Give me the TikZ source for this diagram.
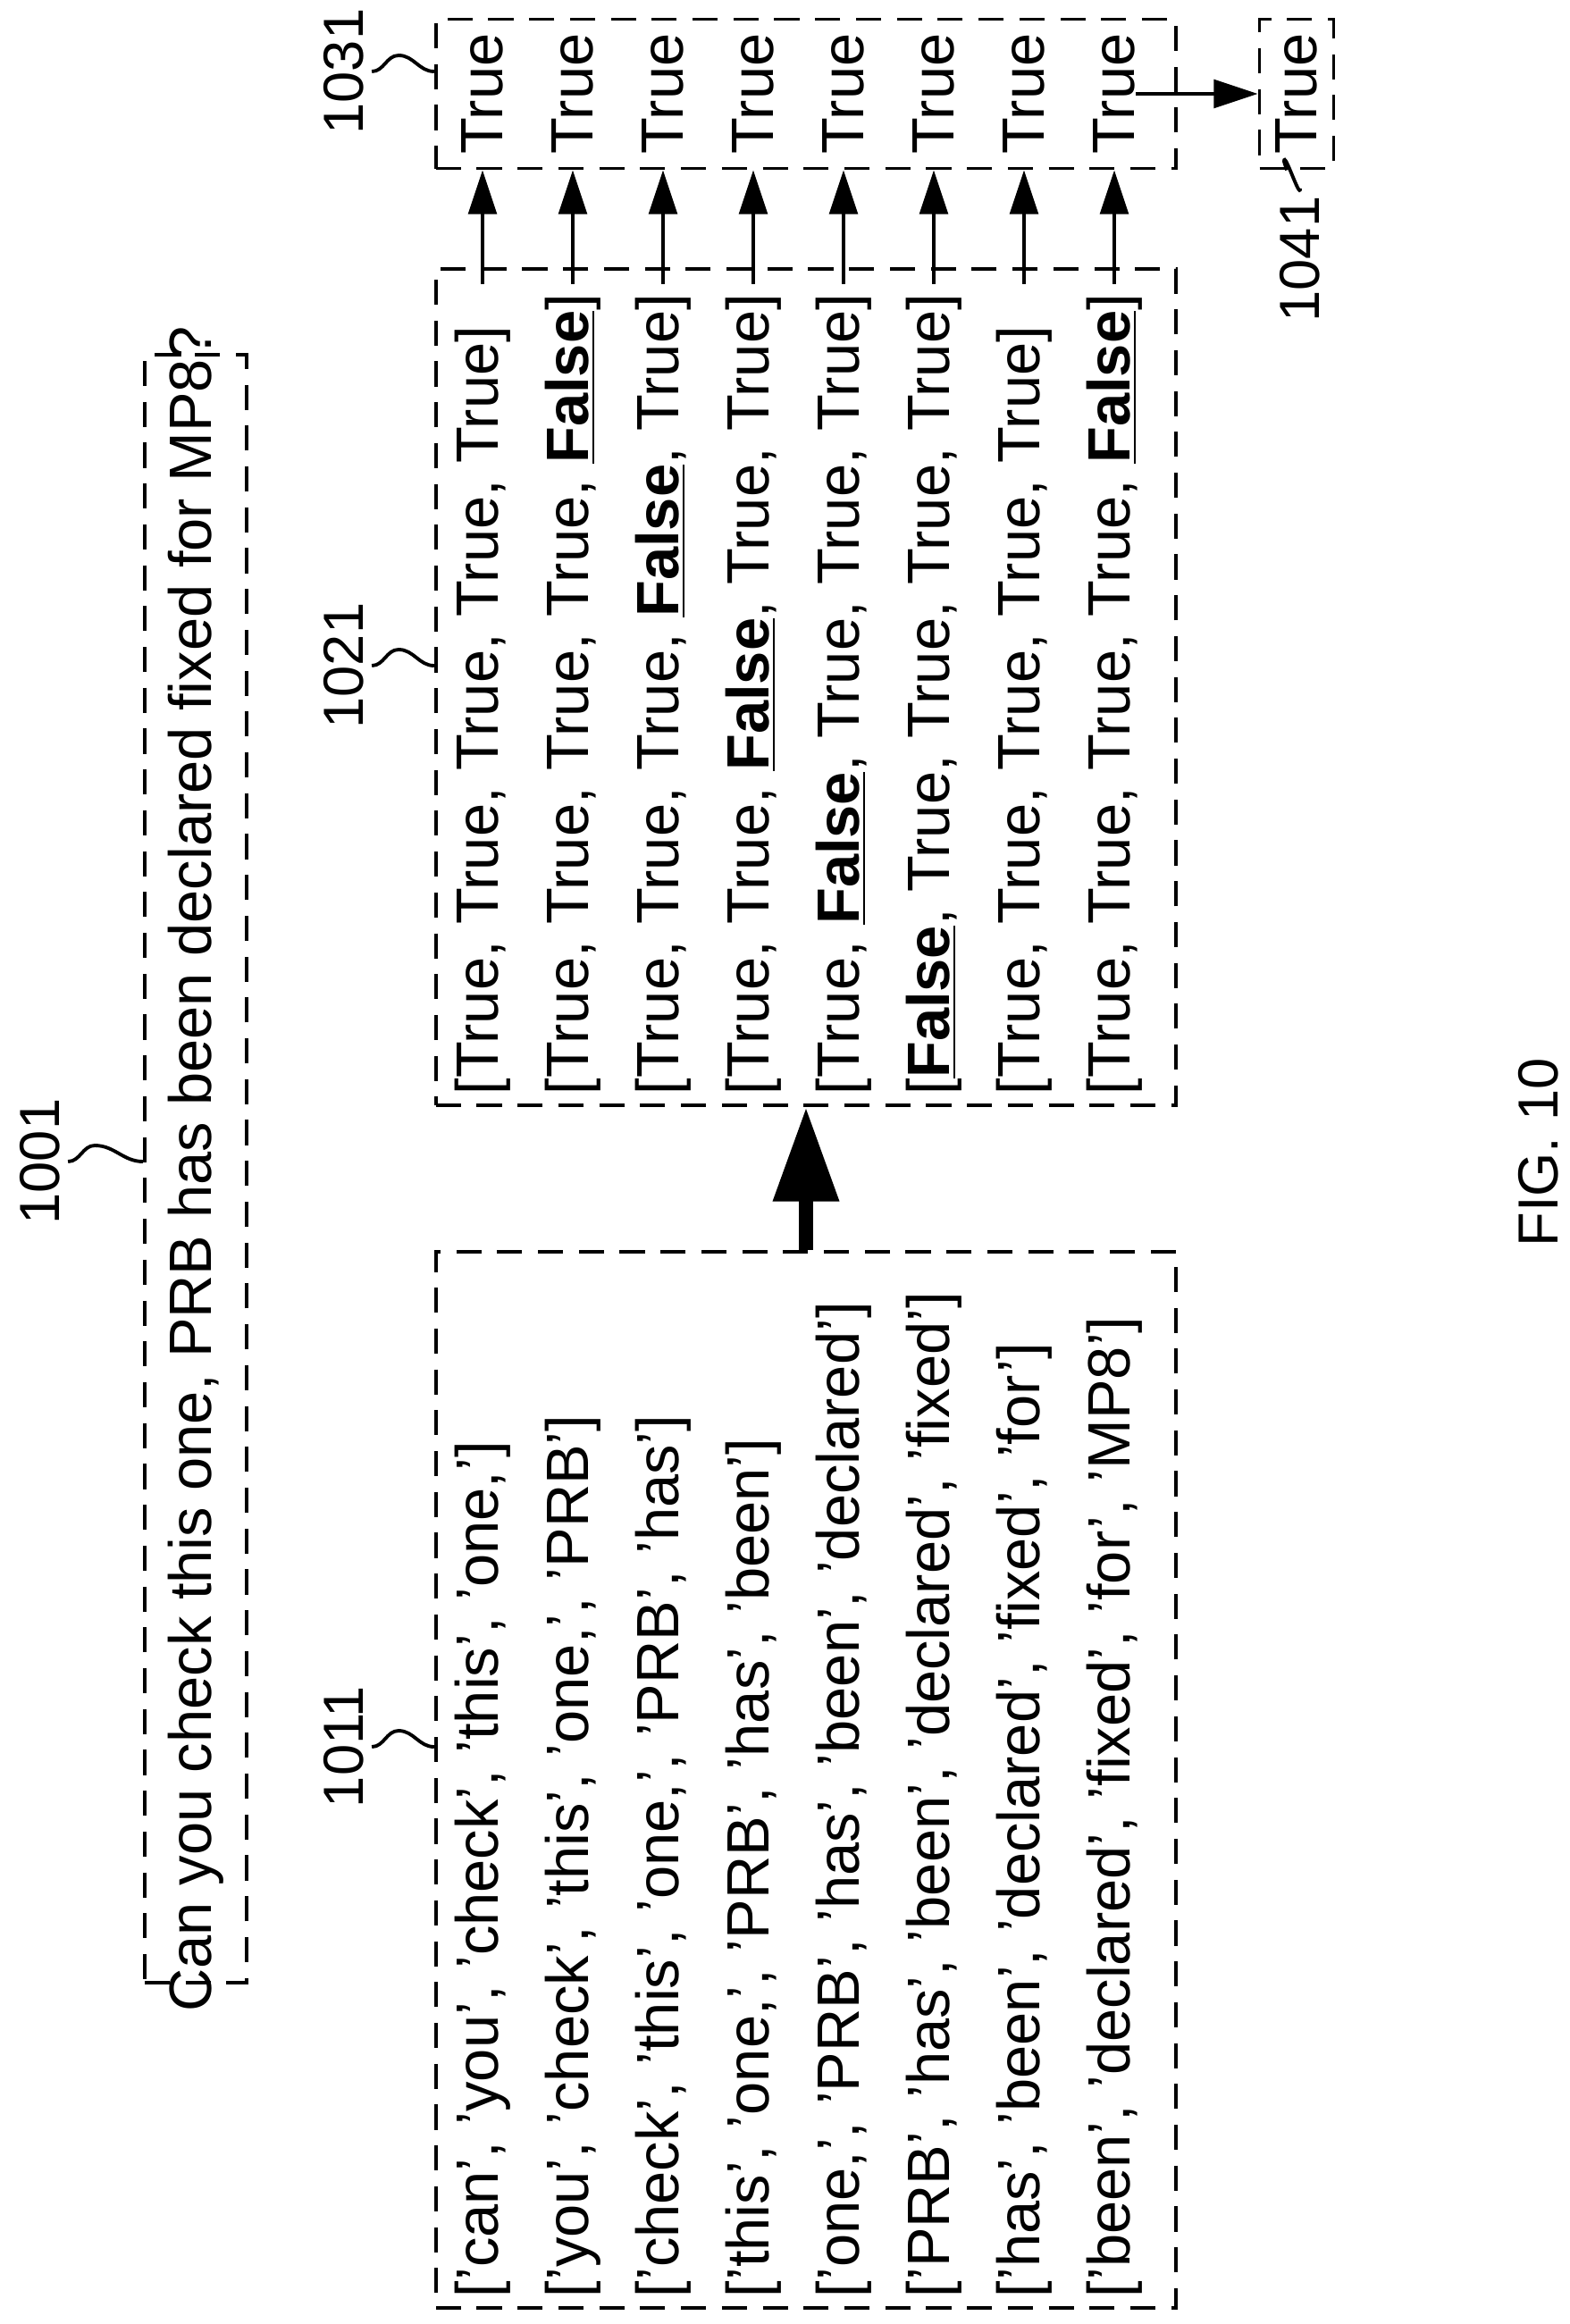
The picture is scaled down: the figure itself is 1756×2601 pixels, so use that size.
\documentclass[tikz,border=0pt]{standalone}
\usepackage{fontspec}
\setmainfont{Liberation Sans}
\usetikzlibrary{arrows.meta,positioning,calc}

\begin{document}
\begin{tikzpicture}[
    x=0.01cm, y=-0.01cm,
    box/.style={rectangle, draw, dash pattern=on 8pt off 5pt, line width=1.1pt, inner sep=0pt},
    txt/.style={rotate=90, inner sep=0pt, font=\fontsize{19}{23}\selectfont},
    lbl/.style={rotate=90, inner sep=0pt, font=\fontsize{18}{22}\selectfont},
    arrow/.style={-{Triangle[length=14pt,width=9pt]}, line width=1.1pt},
    squig/.style={line width=1.1pt}
]
\useasboundingbox (0,0) rectangle (1756,2601);

% boxes
\node[box, minimum width=114\pgflinewidth*0+1.14cm, minimum height=18.21cm] (q) at (219,1308) {};
\node[box, minimum width=8.28cm, minimum height=11.82cm] (tok) at (902,1992) {};
\node[box, minimum width=8.28cm, minimum height=9.36cm] (chk) at (902,769) {};
\node[box, minimum width=8.28cm, minimum height=1.67cm] (agg) at (902,105) {};
\node[box, minimum width=0.83cm, minimum height=1.67cm] (res) at (1451,105) {};

\node[txt] (qtext) at (q.center) {Can you check this one, PRB has been declared fixed for MP8?};

% token windows
\foreach \w [count=\i] in {
    {['can', 'you', 'check', 'this', 'one,']},
    {['you', 'check', 'this', 'one,', 'PRB']},
    {['check', 'this', 'one,', 'PRB', 'has']},
    {['this', 'one,', 'PRB', 'has', 'been']},
    {['one,', 'PRB', 'has', 'been', 'declared']},
    {['PRB', 'has', 'been', 'declared', 'fixed']},
    {['has', 'been', 'declared', 'fixed', 'for']},
    {['been', 'declared', 'fixed', 'for', 'MP8']}}
    \node[txt, anchor=west] (w\i) at (540+101*\i-101, 2572) {\w};

% checks
\newcommand{\F}{\textbf{\underline{False}}}
\foreach \c [count=\i] in {
    {[True, True, True, True, True]},
    {[True, True, True, True, \F]},
    {[True, True, True, \F, True]},
    {[True, True, \F, True, True]},
    {[True, \F, True, True, True]},
    {[\F, True, True, True, True]},
    {[True, True, True, True, True]},
    {[True, True, True, True, \F]}}
  {
    \node[txt, anchor=west] (c\i) at (540+101*\i-101, 1226) {\c};
    \node[txt] (a\i) at (540+101*\i-101, 105) {True};
    \coordinate (s\i) at (540+101*\i-101, 318);
    \draw[arrow] (s\i) -- (s\i |- agg.south);
  }

\node[txt] (r) at (res.center) {True};
\draw[arrow] (a8.south) -- (res.west);
\draw[-{Triangle[length=30pt,width=20pt]}, line width=4.5pt] (tok.north) -- (chk.south);

% reference numerals
\node[lbl] (l1001) at (45,1300) {1001};
\node[lbl] (l1011) at (385,1955) {1011};
\node[lbl] (l1021) at (385,745) {1021};
\node[lbl] (l1031) at (385,80) {1031};
\node[lbl] (l1041) at (1455,290) {1041};
\draw[squig] (l1001.south) ++(8,0) to[out=0,in=180] ++(30,-18) to[out=0,in=180] (q.west |- 0,1300);
\draw[squig] (l1011.south) ++(8,0) to[out=0,in=180] ++(30,-18) to[out=0,in=180] (tok.west |- 0,1955);
\draw[squig] (l1021.south) ++(8,0) to[out=0,in=180] ++(30,-18) to[out=0,in=180] (chk.west |- 0,745);
\draw[squig] (l1031.south) ++(8,0) to[out=0,in=180] ++(30,-18) to[out=0,in=180] (agg.west |- 0,80);
\draw[squig] (l1041.east) ++(0,-8) to[out=-90,in=90] ++(-18,-30) to[out=-90,in=90] (res.south -| 1440,0);

\node[lbl] (fig) at (1722,1290) {FIG. 10};
\end{tikzpicture}
\end{document}
